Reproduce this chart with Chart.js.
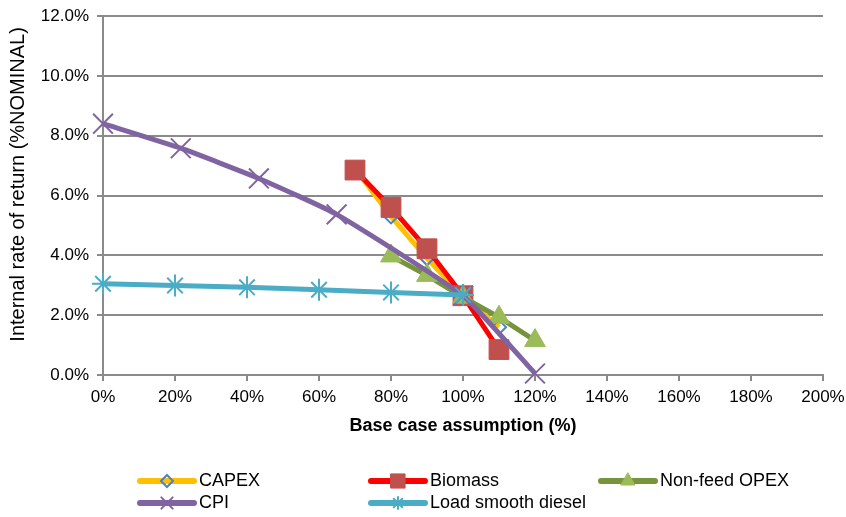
<!DOCTYPE html>
<html lang="en">
<head>
  <meta charset="UTF-8" />
  <title>IRR sensitivity</title>
  <style>
    body{margin:0;background:#fff}
    #wrap{width:846px;height:517px;position:relative}
  </style>
</head>
<body>
  <div id="wrap"><canvas id="chart" width="846" height="517"></canvas></div>

  <script src="https://cdn.jsdelivr.net/npm/chart.js"></script>
  <script>
  /* ---------- data (x = % of base case, y = IRR %) ---------- */
  const xTicks = [0,20,40,60,80,100,120,140,160,180,200];
  const yTicks = [0,2,4,6,8,10,12];

  const capexX   = [70,80,90,100,110];
  const capexY   = [6.9,5.3,3.9,2.62,1.6];
  const biomassX = [70,80,90,100,110];
  const biomassY = [6.85,5.6,4.22,2.65,0.85];
  const opexX    = [80,90,100,110,120];
  const opexY    = [3.98,3.33,2.6,1.93,1.15];
  const cpiX     = [0,21.6,43.3,64.9,100,120];
  const cpiY     = [8.4,7.58,6.57,5.37,2.65,0.05];
  const dieselX  = [0,20,40,60,80,100];
  const dieselY  = [3.05,2.99,2.93,2.85,2.76,2.67];

  const pts = (xs,ys) => xs.map((x,i)=>({x, y:ys[i]}));
  const FONT = "'Liberation Sans', Arial, sans-serif";
  const GRID = '#8a8a8a';

  const series = [
    {label:'CAPEX', data:pts(capexX,capexY), borderColor:'#FFC000', pointStyle:'rectRot',
     pointRadius:7, pointBorderColor:'#4F81BD', pointBackgroundColor:'rgba(0,0,0,0)', pointBorderWidth:2, order:5,
     lg:{r:6}},
    {label:'Biomass', data:pts(biomassX,biomassY), borderColor:'#FF0000', pointStyle:'rect',
     pointRadius:14, pointBorderColor:'#C0504D', pointBackgroundColor:'#C0504D', pointBorderWidth:1, order:4,
     lg:{r:10}},
    {label:'Non-feed OPEX', data:pts(opexX,opexY), borderColor:'#77933C', pointStyle:'triangle',
     pointRadius:12, pointBorderColor:'#9BBB59', pointBackgroundColor:'#9BBB59', pointBorderWidth:1, order:3,
     lg:{r:8}},
    {label:'CPI', data:pts(cpiX,cpiY), borderColor:'#8064A2', pointStyle:'crossRot',
     pointRadius:14, pointBorderColor:'#8064A2', pointBackgroundColor:'#8064A2', pointBorderWidth:2, order:2,
     tension:0.15, lg:{r:8}},
    {label:'Load smooth diesel', data:pts(dieselX,dieselY), borderColor:'#4BACC6', pointStyle:'star',
     pointRadius:11, pointBorderColor:'#4BACC6', pointBackgroundColor:'#4BACC6', pointBorderWidth:2, order:1,
     lg:{r:6}}
  ];
  series.forEach(s=>{ s.showLine=true; s.borderWidth=5; s.clip=false; s.pointHoverRadius=s.pointRadius; if(s.tension==null) s.tension=0; });

  /* ---------- legend drawn on the canvas, 3 columns ---------- */
  const legendPos = [[137,481],[368,481],[598,481],[137,503],[368,503]];
  const gridLegend = {
    id:'gridLegend',
    afterDraw(chart){
      const ctx = chart.ctx;
      chart.data.datasets.forEach((ds,i)=>{
        const [x,y] = legendPos[i];
        ctx.save();
        ctx.strokeStyle = ds.borderColor; ctx.lineWidth = 6; ctx.lineCap = 'round';
        ctx.beginPath(); ctx.moveTo(x+3,y); ctx.lineTo(x+57,y); ctx.stroke();
        ctx.fillStyle = ds.pointBackgroundColor; ctx.strokeStyle = ds.pointBorderColor;
        ctx.lineWidth = ds.pointBorderWidth;
        Chart.helpers.drawPoint(ctx, {pointStyle:ds.pointStyle, radius:ds.lg.r, borderWidth:ds.pointBorderWidth}, x+30, y);
        ctx.fillStyle = '#000'; ctx.font = '18px ' + FONT; ctx.textBaseline = 'middle';
        ctx.fillText(ds.label, x+62, y);
        ctx.restore();
      });
    }
  };

  new Chart(document.getElementById('chart'), {
    type:'scatter',
    data:{datasets:series},
    plugins:[gridLegend],
    options:{
      responsive:false, animation:false,
      layout:{padding:{left:0, top:14, right:23, bottom:80}},
      plugins:{legend:{display:false}, tooltip:{enabled:false}},
      scales:{
        x:{
          type:'linear', min:0, max:200,
          afterBuildTicks: s => { s.ticks = xTicks.map(v=>({value:v})); },
          afterFit: s => { s.height = 62; s.paddingLeft = 0; s.paddingRight = 0; },
          ticks:{color:'#000', font:{family:FONT, size:17}, padding:6, maxRotation:0,
                 callback: v => v + '%'},
          grid:{drawOnChartArea:false, drawTicks:true, tickLength:6, color:GRID, lineWidth:2},
          border:{color:GRID, width:2},
          title:{display:true, text:'Base case assumption (%)', color:'#000',
                 font:{family:FONT, size:18, weight:'bold'}, padding:{top:0, bottom:0}}
        },
        y:{
          type:'linear', min:0, max:12,
          afterBuildTicks: s => { s.ticks = yTicks.map(v=>({value:v})); },
          afterFit: s => { s.width = 103; s.paddingTop = 0; s.paddingBottom = 0; },
          ticks:{color:'#000', font:{family:FONT, size:17}, padding:8,
                 callback: v => v.toFixed(1) + '%'},
          grid:{color:GRID, lineWidth:2, tickLength:6},
          border:{color:GRID, width:2},
          title:{display:true, text:'    Internal rate of return (%NOMINAL)', color:'#000',
                 font:{family:FONT, size:20}, padding:{top:6, bottom:0}}
        }
      }
    }
  });
  </script>
</body>
</html>
